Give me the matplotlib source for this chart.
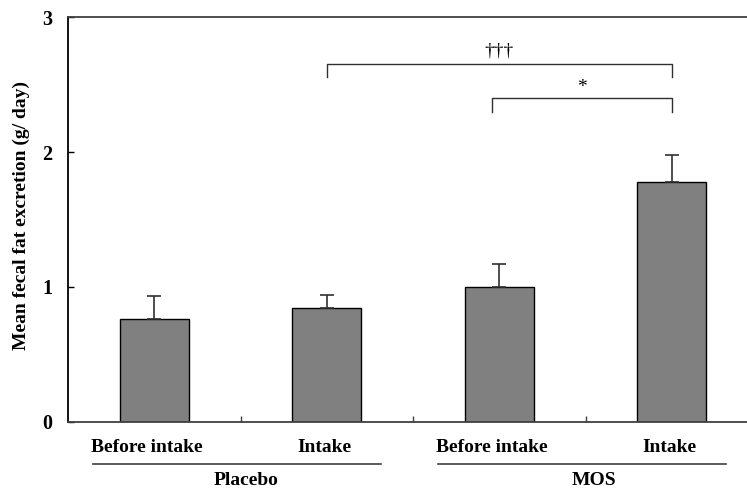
import matplotlib
matplotlib.use("Agg")
import matplotlib.pyplot as plt
from matplotlib.transforms import offset_copy

# data
conditions = ["Before intake", "Intake", "Before intake", "Intake"]
groups = ["Placebo", "MOS"]
mean_fat = [0.76, 0.84, 1.00, 1.78]
upper_err = [0.17, 0.10, 0.17, 0.20]
yticks = [0, 1, 2, 3]

plt.rcParams["font.family"] = "Liberation Serif"
plt.rcParams["font.weight"] = "bold"

fig = plt.figure(figsize=(7.47, 4.90), dpi=100)
# axes run past the right edge, like the cropped original
ax = fig.add_axes([68 / 747, 1 - 421.7 / 490, 690 / 747, 404.4 / 490])

x = list(range(len(mean_fat)))
ax.bar(x, mean_fat, width=0.4, color="#808080", edgecolor="black", linewidth=1.0, zorder=2)
ax.errorbar(x, mean_fat, yerr=[[0] * len(mean_fat), upper_err], fmt="none",
            ecolor="#303030", elinewidth=1.2, capsize=4.8, capthick=1.2, zorder=3)

ax.set_xlim(-0.5, 3.5)
ax.set_ylim(0, 3)
ax.set_yticks(yticks)
ax.set_yticklabels([str(t) for t in yticks], fontsize=14.5, fontweight="bold")
ax.set_xticks([0.5, 1.5, 2.5])
ax.set_xticklabels([])
ax.tick_params(axis="x", direction="in", length=4, width=1.0, color="#404040")
ax.tick_params(axis="y", direction="in", length=4, width=1.0, pad=11)

for s in ["left", "bottom", "top"]:
    ax.spines[s].set_linewidth(1.3)
    ax.spines[s].set_color("#404040")
ax.spines["left"].set_color("black")
ax.spines["right"].set_visible(False)

ax.set_ylabel("Mean fecal fat excretion (g/ day)", fontsize=14, fontweight="bold")
ax.yaxis.set_label_coords(-0.055, 0.51)

tr = ax.get_xaxis_transform()
# category labels, set a little left of the bar centres as in the original
for xi, name in zip(x, conditions):
    dx = -5 if name.startswith("Before") else -1.5
    ax.text(xi, -0.065, name, transform=offset_copy(tr, fig=fig, x=dx, units="points"),
            ha="center", va="center", fontsize=14, fontweight="bold")

# group lines and labels under the category labels
for i, g in enumerate(groups):
    left = 2 * i
    ax.plot([left - 0.357, left + 1.315], [-0.105, -0.105], transform=tr,
            color="#404040", lw=1.2, clip_on=False)
    ax.text(left + 0.5 + 0.03 + 0.02 * i, -0.145, g, transform=tr, ha="center", va="center",
            fontsize=14, fontweight="bold")

# significance brackets
def bracket(x1, x2, y, h, label, ty, size):
    ax.plot([x1, x1, x2, x2], [y - h, y, y, y - h], color="#303030", lw=1.0, clip_on=False)
    ax.text((x1 + x2) / 2, ty, label, ha="center", va="center", fontsize=size,
            fontweight="normal")

bracket(1.0, 3.0, 2.654, 0.094, "\u2020\u2020\u2020", 2.75, 14)
bracket(1.96, 3.0, 2.40, 0.10, "*", 2.48, 14)

fig.savefig("out.png", dpi=100)
